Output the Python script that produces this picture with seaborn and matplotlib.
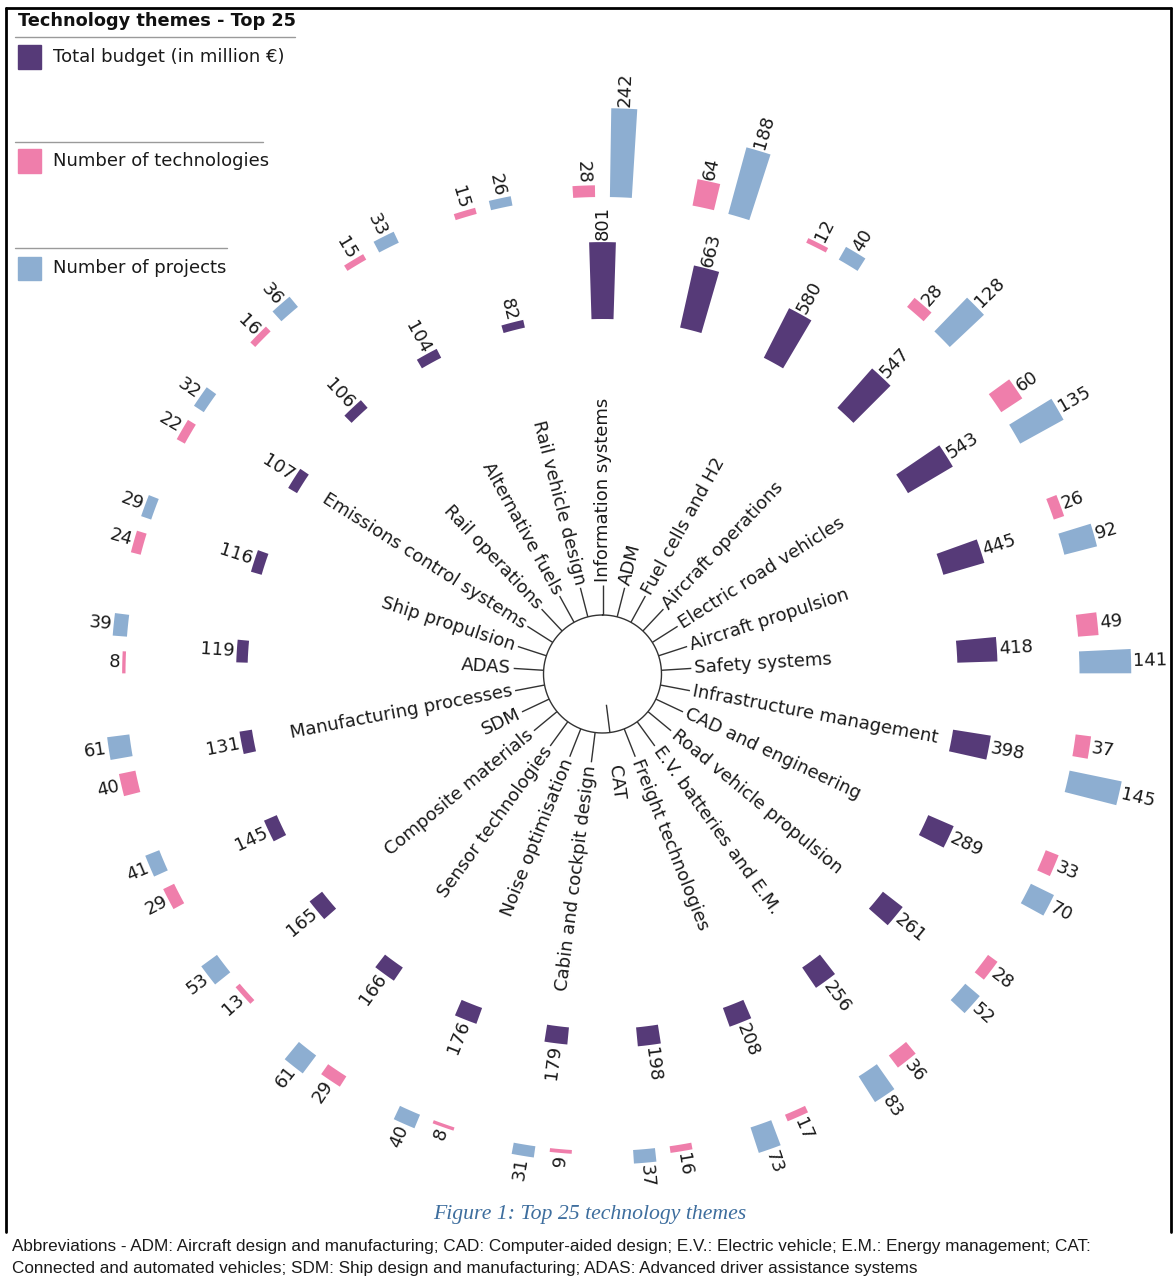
import numpy as np
import matplotlib
matplotlib.use('Agg')
import matplotlib.pyplot as plt
from matplotlib.lines import Line2D
from matplotlib.patches import Rectangle
import seaborn as sns

# Top 25 technology themes, clockwise from the top
themes = ['Information systems', 'ADM', 'Fuel cells and H2', 'Aircraft operations',
          'Electric road vehicles', 'Aircraft propulsion', 'Safety systems',
          'Infrastructure management', 'CAD and engineering', 'Road vehicle propulsion',
          'E.V. batteries and E.M.', 'Freight technologies', 'CAT',
          'Cabin and cockpit design', 'Noise optimisation', 'Sensor technologies',
          'Composite materials', 'SDM', 'Manufacturing processes', 'ADAS',
          'Ship propulsion', 'Emissions control systems', 'Rail operations',
          'Alternative fuels', 'Rail vehicle design']
budget = [801, 663, 580, 547, 543, 445, 418, 398, 289, 261, 256, 208, 198,
          179, 176, 166, 165, 145, 131, 119, 116, 107, 106, 104, 82]
technologies = [28, 64, 12, 28, 60, 26, 49, 37, 33, 28, 36, 17, 16,
                9, 8, 29, 13, 29, 40, 8, 24, 22, 16, 15, 15]
projects = [242, 188, 40, 128, 135, 92, 141, 145, 70, 52, 83, 73, 37,
            31, 40, 61, 53, 41, 61, 39, 29, 32, 36, 33, 26]

legend_labels = ['Total budget (in million €)', 'Number of technologies', 'Number of projects']
purple, pink, blue = '#563A78', '#EF7EAB', '#8DAED1'

sns.set_theme(style='white')
plt.rcParams['font.family'] = ['DejaVu Sans']

W, H = 1176, 1281
fig = plt.figure(figsize=(W / 100, H / 100), dpi=100)

# polar axes whose radius unit is one pixel
cx, cy, rmax = 602.5, 674, 640
ax = fig.add_axes([(cx - rmax) / W, (H - cy - rmax) / H, 2 * rmax / W, 2 * rmax / H],
                  projection='polar')
ax.set_theta_zero_location('N')
ax.set_theta_direction(-1)
ax.set_ylim(0, rmax)
ax.set_axis_off()

n = len(themes)
ang = np.deg2rad(np.arange(n) * 360 / n)
r_in, r_out = 355, 477
off = 0.0385

b_len = np.array(budget) * 0.096
t_len = np.array(technologies) * 0.42
p_len = np.array(projects) * 0.367

ax.bar(ang, b_len, width=0.062, bottom=r_in, color=purple, linewidth=0)
ax.bar(ang - off, t_len, width=0.046, bottom=r_out, color=pink, linewidth=0)
ax.bar(ang + off, p_len, width=0.046, bottom=r_out, color=blue, linewidth=0)


def radial_text(theta, r, s, size=13):
    deg = np.rad2deg(theta) % 360
    if deg <= 180:
        rot, ha = 90 - deg, 'left'
    else:
        rot, ha = 270 - deg, 'right'
    ax.text(theta, r, s, rotation=rot, rotation_mode='anchor', ha=ha, va='center',
            fontsize=size, color='#1a1a1a', clip_on=False)


for i in range(n):
    radial_text(ang[i], r_in + b_len[i] + 2, str(budget[i]))
    radial_text(ang[i] - off, r_out + t_len[i] + 2, str(technologies[i]))
    radial_text(ang[i] + off, r_out + p_len[i] + 2, str(projects[i]))
    radial_text(ang[i], 92, themes[i])

# centre circle and label ticks
th = np.linspace(0, 2 * np.pi, 400)
ax.plot(th, np.full_like(th, 59), color='#333333', lw=1)
cat = themes.index('CAT')
others = [a for j, a in enumerate(ang) if j != cat]
ax.vlines(others, 59, 89, color='#333333', lw=1)
ax.vlines(ang[cat], 31, 59, color='#333333', lw=1)


def fx(x):
    return x / W


def fy(y):
    return 1 - y / H


# legend
fig.text(fx(18), fy(21), 'Technology themes - Top 25', fontsize=12.8, fontweight='bold',
         ha='left', va='center', color='#111111')
legend_y = [57, 161, 268]
line_y = [37, 142, 248]
line_x = [295, 263, 227]
for lab, col, y, ly, lx in zip(legend_labels, [purple, pink, blue], legend_y, line_y, line_x):
    fig.add_artist(Line2D([fx(15), fx(lx)], [fy(ly), fy(ly)], color='#9a9a9a', lw=1))
    fig.add_artist(Rectangle((fx(18), fy(y + 11.5)), 23 / W, 23 / H, facecolor=col,
                             edgecolor=col, transform=fig.transFigure))
    fig.text(fx(53), fy(y), lab, fontsize=13, ha='left', va='center', color='#1a1a1a')

# frame
for xs, ys in [([6, 6], [8, 1232]), ([6, 1171], [8, 8]), ([1171, 1171], [8, 1232])]:
    fig.add_artist(Line2D([fx(x) for x in xs], [fy(y) for y in ys], color='black', lw=2))

fig.text(fx(590), fy(1215), 'Figure 1: Top 25 technology themes', family='Liberation Serif',
         style='italic', fontsize=15.7, color='#3E6E9E', ha='center', va='center')
fig.text(fx(12), fy(1246), 'Abbreviations - ADM: Aircraft design and manufacturing; CAD: '
         'Computer-aided design; E.V.: Electric vehicle; E.M.: Energy management; CAT:',
         family='Liberation Sans', fontsize=12.3, ha='left', va='center', color='#1a1a1a')
fig.text(fx(12), fy(1268), 'Connected and automated vehicles; SDM: Ship design and '
         'manufacturing; ADAS: Advanced driver assistance systems',
         family='Liberation Sans', fontsize=12.3, ha='left', va='center', color='#1a1a1a')

fig.savefig('out.png', dpi=100)
